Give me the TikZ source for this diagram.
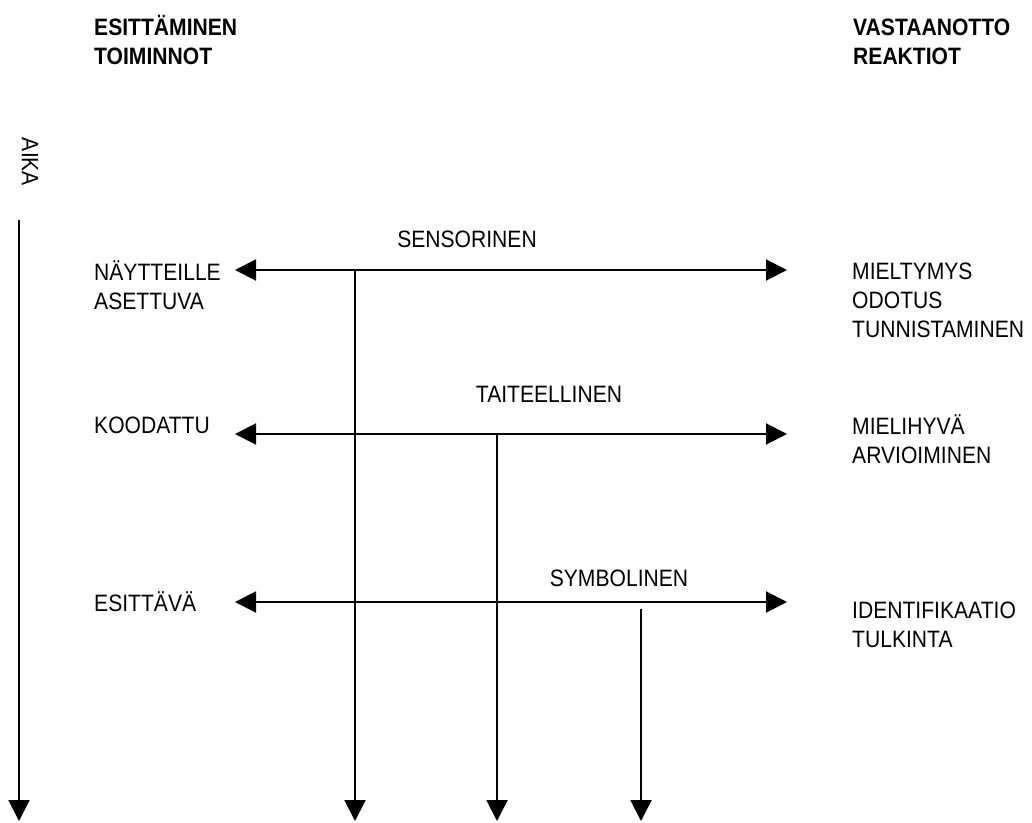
\documentclass[tikz,border=0pt]{standalone}
\usepackage{fontspec}
\setmainfont{Liberation Sans}[FakeStretch=0.89]
\usetikzlibrary{arrows.meta}
\begin{document}
\begin{tikzpicture}[x=1pt,y=-1pt,
  lbl/.style={inner sep=0pt, anchor=base west, align=left, font=\fontsize{23.7}{29}\selectfont},
  hd/.style={lbl, font=\fontsize{23.7}{29}\selectfont\bfseries},
  ctr/.style={inner sep=0pt, anchor=base, font=\fontsize{23.7}{29}\selectfont},
  ln/.style={line width=2pt},
  tip/.tip={Triangle[length=21pt,width=21pt]},
  arr/.style={ln, -tip},
  darr/.style={ln, tip-tip}]
\useasboundingbox (0,0) rectangle (1032,822);
% headers (anchor = baseline of last line)
\node[hd] (hl) at (94,64) {ESITTÄMINEN\\TOIMINNOT};
\node[hd] (hr) at (853,64) {VASTAANOTTO\\REAKTIOT};
% time axis
\node[inner sep=0pt, rotate=-90, font=\fontsize{23.7}{29}\selectfont] (aika) at (30,162) {AIKA};
\coordinate (t0) at (19,220);
\coordinate (t1) at (19,821);
\draw[arr] (t0) -- (t1);
% row 1
\coordinate (r1l) at (235,270);
\coordinate (r1r) at (787,270);
\draw[darr] (r1l) -- (r1r);
\node[lbl] (l1) at (94,309) {NÄYTTEILLE\\ASETTUVA};
\node[lbl] (rr1) at (852,337) {MIELTYMYS\\ODOTUS\\TUNNISTAMINEN};
\node[ctr] (c1) at (467,247.5) {SENSORINEN};
% row 2
\coordinate (r2l) at (235,434);
\coordinate (r2r) at (787,434);
\draw[darr] (r2l) -- (r2r);
\node[lbl] (l2) at (94,433) {KOODATTU};
\node[lbl] (rr2) at (852,463) {MIELIHYVÄ\\ARVIOIMINEN};
\node[ctr] (c2) at (549,402.7) {TAITEELLINEN};
% row 3
\coordinate (r3l) at (235,602);
\coordinate (r3r) at (787,602);
\draw[darr] (r3l) -- (r3r);
\node[lbl] (l3) at (94,611) {ESITTÄVÄ};
\node[lbl] (rr3) at (852,647) {IDENTIFIKAATIO\\TULKINTA};
\node[ctr] (c3) at (619,586) {SYMBOLINEN};
% verticals
\coordinate (v1a) at (355,270);
\coordinate (v1b) at (355,821);
\coordinate (v2a) at (497,434);
\coordinate (v2b) at (497,821);
\coordinate (v3a) at (641,609);
\coordinate (v3b) at (641,821);
\draw[arr] (v1a) -- (v1b);
\draw[arr] (v2a) -- (v2b);
\draw[arr] (v3a) -- (v3b);
\end{tikzpicture}
\end{document}
